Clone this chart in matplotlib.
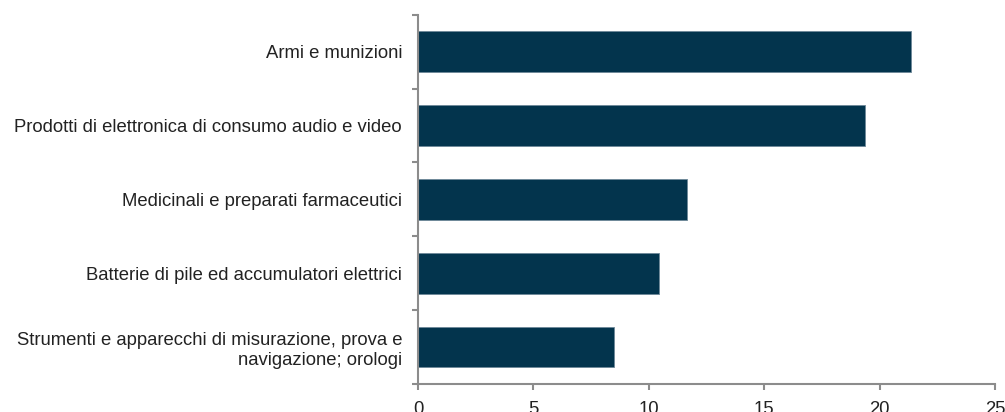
import matplotlib
matplotlib.use("Agg")
import matplotlib.pyplot as plt

plt.rcParams['font.family'] = ['Liberation Sans', 'DejaVu Sans']

categories = [
    "Armi e munizioni",
    "Prodotti di elettronica di consumo audio e video",
    "Medicinali e preparati farmaceutici",
    "Batterie di pile ed accumulatori elettrici",
    "Strumenti e apparecchi di misurazione, prova e\nnavigazione; orologi",
]
values = [21.35, 19.35, 11.65, 10.45, 8.5]
x_ticks = [0, 5, 10, 15, 20, 25]

BAR = '#03344d'
AXIS = '#8c8c8c'
TEXT = '#222222'
FS = 13.3

fig = plt.figure(figsize=(10.05, 4.12), dpi=100)
ax = fig.add_axes([418 / 1005, 1 - 384 / 412, 577 / 1005, 369.3 / 412])

pos = list(range(len(categories)))
ax.barh(pos, values, height=0.55, color=BAR, edgecolor='#6d8898', linewidth=0.6)

ax.set_xlim(0, 25)
ax.set_ylim(len(categories) - 0.5, -0.5)
ax.set_xticks(x_ticks)
ax.set_xticklabels([str(t) for t in x_ticks])
ax.set_yticks(pos)
ax.set_yticklabels(categories, linespacing=1.25)

# y ticks sit between categories, labels centred on bars
ax.set_yticks([p - 0.5 for p in pos] + [len(pos) - 0.5], minor=True)
ax.tick_params(axis='y', which='major', length=0, pad=11.5, labelsize=FS, labelcolor=TEXT)
ax.tick_params(axis='y', which='minor', length=4.5, width=1.5, color=AXIS)
ax.tick_params(axis='x', length=4, width=1.5, color=AXIS, pad=8.5, labelsize=FS, labelcolor=TEXT)

for side in ['top', 'right']:
    ax.spines[side].set_visible(False)
for side in ['left', 'bottom']:
    ax.spines[side].set_color(AXIS)
    ax.spines[side].set_linewidth(1.5)

fig.savefig('out.png', dpi=100)
